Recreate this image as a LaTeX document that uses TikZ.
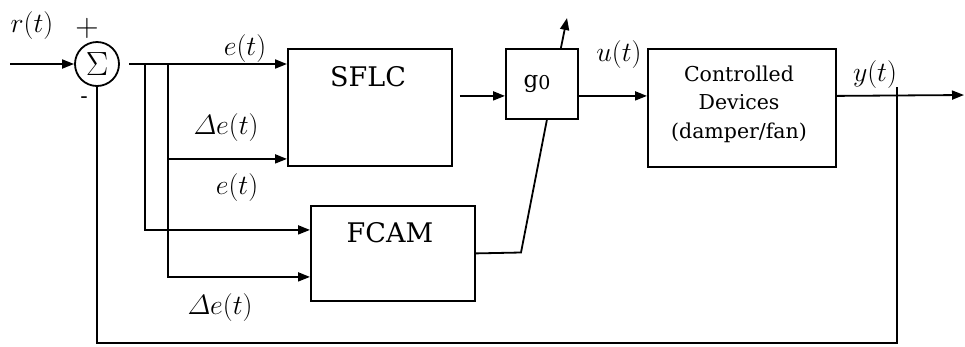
\documentclass[tikz,border=0pt]{standalone}
\usepackage[no-math]{fontspec}
\setmainfont{DejaVu Serif}
\usetikzlibrary{arrows.meta}
\newcommand{\mylbl}[1]{\scalebox{1.12}{$#1$}}
\begin{document}
\begin{tikzpicture}[x=1pt,y=-1pt, line width=1.8pt,
  arr/.style={-{Triangle[length=12pt,width=9pt]}},
  blk/.style={draw, rectangle, inner sep=0pt, anchor=north west},
  boxtxt/.style={inner sep=0pt, font=\fontsize{27}{27}\selectfont},
  lbl/.style={inner sep=0pt, font=\fontsize{24.88}{25}\selectfont},
  ]
\useasboundingbox[fill=white] (0,0) rectangle (965,346);
% blocks
\node[draw, circle, minimum size=44pt, inner sep=0pt, font=\fontsize{24.88}{25}\selectfont] (sum) at (97,64) {\scalebox{1.35}{$\Sigma$}};
\node[blk, minimum width=164pt, minimum height=117pt] (sflc) at (287,48) {};
\node[boxtxt] (sflct) at (368,77) {SFLC};
\node[blk, minimum width=72pt, minimum height=70pt] (g0) at (505,48) {};
\node[inner sep=0pt, font=\fontsize{23}{23}\selectfont] (g0t) at (537,84) {g{\fontsize{19}{19}\selectfont\raisebox{-2pt}{0}}};
\node[blk, minimum width=164pt, minimum height=95pt] (fcam) at (310,205) {};
\node[boxtxt] (fcamt) at (390,233) {FCAM};
\node[blk, minimum width=188pt, minimum height=118pt] (cd) at (647,48) {};
\node[inner sep=0pt, align=center, font=\fontsize{20.5}{28.5}\selectfont] (cdt) at (739,104) {Controlled\\Devices\\(damper/fan)};
% coordinates
\coordinate (in) at (10,64);
\coordinate (s0) at (129,64);
\coordinate (bA) at (145,64);
\coordinate (bB) at (168,64);
\coordinate (sin2) at ([yshift=-51.5pt]sflc.west);
\coordinate (fin1) at ([yshift=23.5pt]fcam.west);
\coordinate (fin2) at ([yshift=-23.5pt]fcam.west);
\coordinate (gin) at ([yshift=-12pt]g0.west);
\coordinate (out) at (964,95);
\coordinate (gtop) at (567,18);
\coordinate (kink) at (521,252.5);
\coordinate (fb) at (897,87);
\coordinate (fbb) at (897,343);
% connectors
\draw[arr] (in) -- (sum);
\draw[arr] (s0) -- (sflc.west |- s0);
\draw[arr] (bA) |- (fin1);
\draw[arr] (bB) |- (fin2);
\draw[arr] (bB |- sin2) -- (sin2);
\draw[arr] ([xshift=7pt]sflc.east |- gin) -- (gin);
\draw[arr] (g0.east |- gin) -- (cd.west |- gin);
\draw[arr] (cd.east |- gin) -- (out);
\draw[arr] ([xshift=19pt]g0.north) -- (gtop);
\draw (fcam.east) -- (kink) -- ([xshift=5pt]g0.south);
\draw (fb) -- (fbb) -| (sum.south);
% labels
\node[lbl] (lr) at (32,26) {\mylbl{r(t)}};
\node[inner sep=0pt, font=\fontsize{24.88}{25}\selectfont] (lplus) at (87,28) {\scalebox{1.3}{$+$}};
\node[inner sep=0pt, font=\fontsize{22}{22}\selectfont] (lminus) at (84,100) {-};
\node[lbl] (le1) at (245,49) {\mylbl{e(t)}};
\node[lbl] (lde1) at (226,128) {\mylbl{\mathnormal{\Delta} e(t)}};
\node[lbl] (le2) at (237,188) {\mylbl{e(t)}};
\node[lbl] (lde2) at (220,308) {\mylbl{\mathnormal{\Delta} e(t)}};
\node[lbl] (lu) at (619,55) {\mylbl{u(t)}};
\node[lbl] (ly) at (875,75) {\mylbl{y(t)}};
\end{tikzpicture}
\end{document}
